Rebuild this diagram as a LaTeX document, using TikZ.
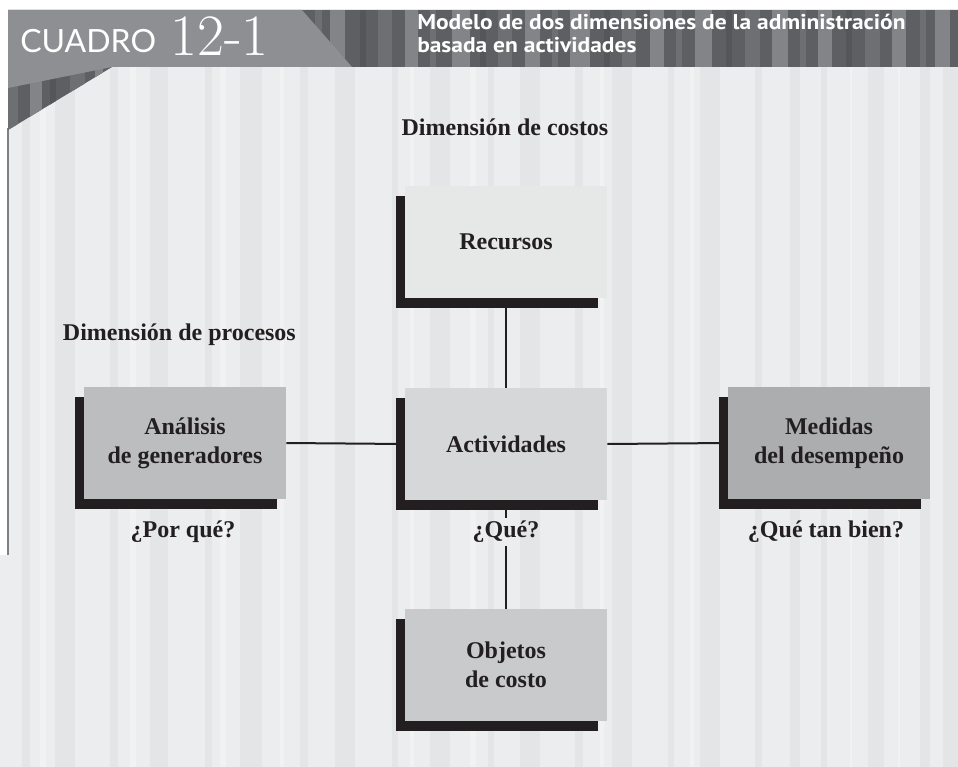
\documentclass[tikz,border=0pt]{standalone}
\usepackage{fontspec}
\newfontfamily\labfont{Liberation Serif}
\newfontfamily\hdrfont[FakeStretch=1.1]{PT Sans}
\newfontfamily\cuadrofont{Lato}
\usetikzlibrary{shadows}
\definecolor{bgc}{HTML}{ECEDEE}
\definecolor{stripeD}{HTML}{E4E5E6}
\definecolor{stripeL}{HTML}{F2F2F3}
\definecolor{hdark}{HTML}{5E5F62}
\definecolor{hsA}{HTML}{6E6F72}
\definecolor{hsB}{HTML}{838487}
\definecolor{hsC}{HTML}{55565A}
\definecolor{hlight}{HTML}{8E8F92}
\definecolor{shadowc}{HTML}{231F20}
\definecolor{cRec}{HTML}{E6E7E7}
\definecolor{cAct}{HTML}{D6D7D8}
\definecolor{cAna}{HTML}{BCBDBE}
\definecolor{cMed}{HTML}{ACADAF}
\definecolor{cObj}{HTML}{C9CACB}
\tikzset{
  boxnode/.style={draw=none, minimum width=151.5pt, minimum height=84pt, inner sep=0pt,
    align=center, text=shadowc, font=\labfont\bfseries\fontsize{18}{22}\selectfont,
    general shadow={fill=shadowc, shadow xshift=-6.75pt, shadow yshift=-7.5pt}},
  lbl/.style={inner sep=2pt, text=shadowc, font=\labfont\bfseries\fontsize{18}{22}\selectfont},
  conn/.style={draw=shadowc, line width=1.5pt},
  hdrtext/.style={anchor=base west, inner sep=0pt, text=white, font=\hdrfont\bfseries\fontsize{16}{20}\selectfont}
}
\begin{document}
\begin{tikzpicture}[x=0.75pt,y=-0.75pt]
\useasboundingbox (0,0) rectangle (958,767);
\fill[white] (0,0) rectangle (958,767);
% content background
\fill[bgc] (8,67) rectangle (958,767);
\fill[bgc] (0,555) rectangle (8,767);
\foreach \a/\b in {22/30,55/75,110/118,150/168,205/212,240/262,300/308,335/355,392/398,430/450,488/494,520/540,575/583,612/632,668/674,700/720,755/762,790/800,821/827,868/884,920/930,943/958}
  \fill[stripeD] (\a,67) rectangle (\b,767);
\foreach \a/\b in {40/46,130/136,220/226,280/284,410/414,470/476,600/604,690/694,850/852,898/900}
  \fill[stripeL] (\a,67) rectangle (\b,767);
\draw[color=gray, line width=0.9pt] (8,128) -- (8,555);
% header band
\fill[hdark] (8,10) -- (958,10) -- (958,67) -- (112,67) -- (8,130) -- cycle;
\begin{scope}
\clip (8,10) -- (958,10) -- (958,67) -- (112,67) -- (8,130) -- cycle;
\foreach \a/\b/\c in {8/18/hsA,30/42/hsB,50/56/hsC,70/85/hsA,95/103/hsB,315/322/hsA,330/345/hsB,360/366/hsC,378/392/hsA,405/418/hsB,430/436/hsA,452/470/hsB,480/486/hsC,498/512/hsA,525/540/hsB,552/558/hsA,570/590/hsB,604/610/hsC,622/636/hsA,650/664/hsB,676/682/hsA,695/712/hsB,726/732/hsC,745/760/hsA,772/788/hsB,800/806/hsA,818/832/hsB,846/852/hsC,865/880/hsA,892/906/hsB,920/926/hsA,935/950/hsB}
  \fill[\c] (\a,10) rectangle (\b,130);
\end{scope}
\fill[hlight] (8,10) -- (302,10) -- (352,67) -- (112,67) -- (8,88) -- cycle;
\node[anchor=base west, inner sep=0pt, text=white, font=\cuadrofont\fontsize{24}{24}\selectfont] (cuadro) at (20,53) {CUADRO};
\node[anchor=base west, inner sep=0pt, text=white, font=\fontsize{44}{44}\selectfont] (num) at (170,56) {12-1};
\node[hdrtext] (t1) at (417,30) {Modelo de dos dimensiones de la administración};
\node[hdrtext] (t2) at (417,53) {basada en actividades};
% boxes
\node[boxnode, fill=cRec] (rec) at (506,242) {Recursos};
\node[boxnode, fill=cAct] (act) at (506,444) {Actividades};
\node[boxnode, fill=cAna] (ana) at (185,443) {Análisis\\de generadores};
\node[boxnode, fill=cMed] (med) at (829,443) {Medidas\\del desempeño};
\node[boxnode, fill=cObj] (obj) at (506,665) {Objetos\\de costo};
% labels
\node[lbl] (dc) at (505,127) {Dimensión de costos};
\node[lbl, anchor=west] (dp) at (60,335) {Dimensión de procesos};
\node[lbl] (pq) at (183,532) {¿Por qué?};
\node[lbl] (q) at (506,532) {¿Qué?};
\node[lbl] (qt) at (826,532) {¿Qué tan bien?};
% connectors
\draw[conn] (rec.south) -- (act.north);
\draw[conn] (ana.east) -- (act.west);
\draw[conn] (act.east) -- (med.west);
\draw[conn] (act.south) -- (q.north);
\draw[conn] (q.south) -- (obj.north);
\end{tikzpicture}
\end{document}
